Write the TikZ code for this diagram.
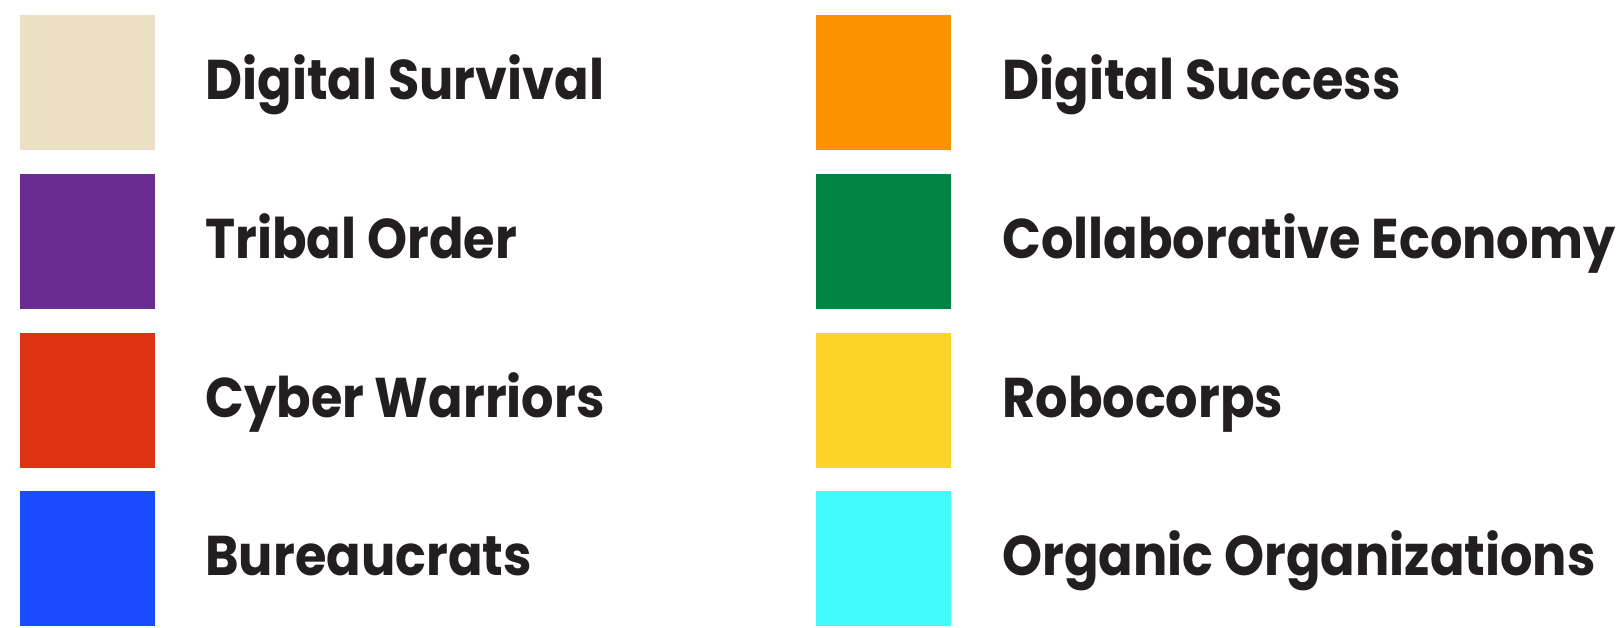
\documentclass[tikz,border=0pt]{standalone}
\usepackage{xcolor}
\usepackage{fontspec}
\setmainfont{Poppins}[BoldFont={* Bold}, FakeStretch=0.91]

\definecolor{survivalcol}{HTML}{EBE0C4}
\definecolor{successcol}{HTML}{FB9200}
\definecolor{tribalcol}{HTML}{6A2C91}
\definecolor{collabcol}{HTML}{008444}
\definecolor{cybercol}{HTML}{DE3212}
\definecolor{robocol}{HTML}{FED32A}
\definecolor{bureaucol}{HTML}{1A4BFF}
\definecolor{organiccol}{HTML}{44FBFB}
\definecolor{labelcol}{HTML}{231F20}

\begin{document}
\begin{tikzpicture}[x=0.5pt, y=-0.5pt,
    swatch/.style={minimum size=67.5pt, inner sep=0pt, fill=#1},
    entry/.style={anchor=base west, inner sep=0pt, text=labelcol,
        font=\fontsize{28}{30}\selectfont\bfseries}]
    \useasboundingbox (0,0) rectangle (1623,627);

    % Left column swatches
    \node[swatch=survivalcol] (S1) at (87.5,82.8) {};
    \node[swatch=tribalcol] (S2) at (87.5,241.5) {};
    \node[swatch=cybercol] (S3) at (87.5,400.2) {};
    \node[swatch=bureaucol] (S4) at (87.5,558.9) {};

    % Right column swatches
    \node[swatch=successcol] (S5) at (883.9,82.8) {};
    \node[swatch=collabcol] (S6) at (883.9,241.5) {};
    \node[swatch=robocol] (S7) at (883.9,400.2) {};
    \node[swatch=organiccol] (S8) at (883.9,558.9) {};

    % Left column labels
    \node[entry] (L1) at (205,99.8) {Digital Survival};
    \node[entry] (L2) at (205,258.5) {Tribal Order};
    \node[entry] (L3) at (205,417.2) {Cyber Warriors};
    \node[entry] (L4) at (205,575.9) {Bureaucrats};

    % Right column labels
    \node[entry] (L5) at (1002,99.8) {Digital Success};
    \node[entry] (L6) at (1002,258.5) {Collaborative Economy};
    \node[entry] (L7) at (1002,417.2) {Robocorps};
    \node[entry] (L8) at (1002,575.9) {Organic Organizations};
\end{tikzpicture}
\end{document}
